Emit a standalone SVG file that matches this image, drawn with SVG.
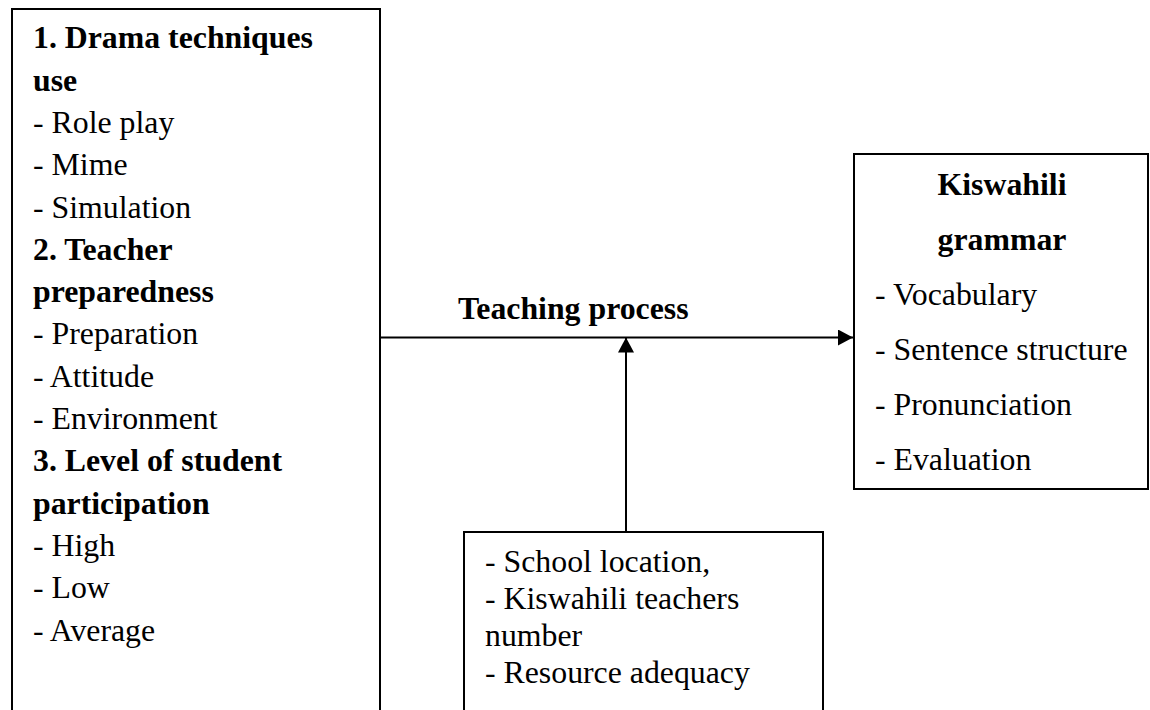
<svg xmlns="http://www.w3.org/2000/svg" width="1150" height="710" viewBox="0 0 1150 710">
<style>
  .box { fill: #ffffff; stroke: #000000; stroke-width: 2; }
  .t { font-family: "Liberation Serif", "Times New Roman", serif; font-size: 31.8px; fill: #000000; }
  .b { font-weight: bold; }
  .conn { stroke: #000000; stroke-width: 2; fill: none; }
</style>
<defs>
  <marker id="arrow" markerWidth="15" markerHeight="16" refX="15" refY="8" orient="auto" markerUnits="userSpaceOnUse">
    <path d="M0,0 L15,8 L0,16 Z" fill="#000000"/>
  </marker>
</defs>
<rect width="1150" height="710" fill="#ffffff"/>
<g id="node-factors">
  <rect class="box" x="12" y="9" width="368" height="720"/>
  <text class="t b" x="33" y="48.3">1. Drama techniques</text>
  <text class="t b" x="33" y="90.6">use</text>
  <text class="t" x="33" y="132.9">- Role play</text>
  <text class="t" x="33" y="175.2">- Mime</text>
  <text class="t" x="33" y="217.5">- Simulation</text>
  <text class="t b" x="33" y="259.8">2. Teacher</text>
  <text class="t b" x="33" y="302.1">preparedness</text>
  <text class="t" x="33" y="344.4">- Preparation</text>
  <text class="t" x="33" y="386.7">- Attitude</text>
  <text class="t" x="33" y="429">- Environment</text>
  <text class="t b" x="33" y="471.3">3. Level of student</text>
  <text class="t b" x="33" y="513.6">participation</text>
  <text class="t" x="33" y="555.9">- High</text>
  <text class="t" x="33" y="598.2">- Low</text>
  <text class="t" x="33" y="640.5">- Average</text>
</g>
<g id="node-grammar">
  <rect class="box" x="854" y="154" width="294" height="335"/>
  <text class="t b" x="1002" y="195" text-anchor="middle">Kiswahili</text>
  <text class="t b" x="1002" y="250" text-anchor="middle">grammar</text>
  <text class="t" x="875" y="305">- Vocabulary</text>
  <text class="t" x="875" y="360">- Sentence structure</text>
  <text class="t" x="875" y="415">- Pronunciation</text>
  <text class="t" x="875" y="470">- Evaluation</text>
</g>
<g id="node-context">
  <rect class="box" x="464" y="532" width="359" height="200"/>
  <text class="t" x="485" y="571.7">- School location,</text>
  <text class="t" x="485" y="608.7">- Kiswahili teachers</text>
  <text class="t" x="485" y="645.7">number</text>
  <text class="t" x="485" y="682.7">- Resource adequacy</text>
</g>
<g id="connectors">
  <line class="conn" x1="380" y1="337.5" x2="853" y2="337.5" marker-end="url(#arrow)"/>
  <line class="conn" x1="626" y1="532" x2="626" y2="337.5" marker-end="url(#arrow)"/>
  <text class="t b" x="458" y="319.3">Teaching process</text>
</g>
</svg>
